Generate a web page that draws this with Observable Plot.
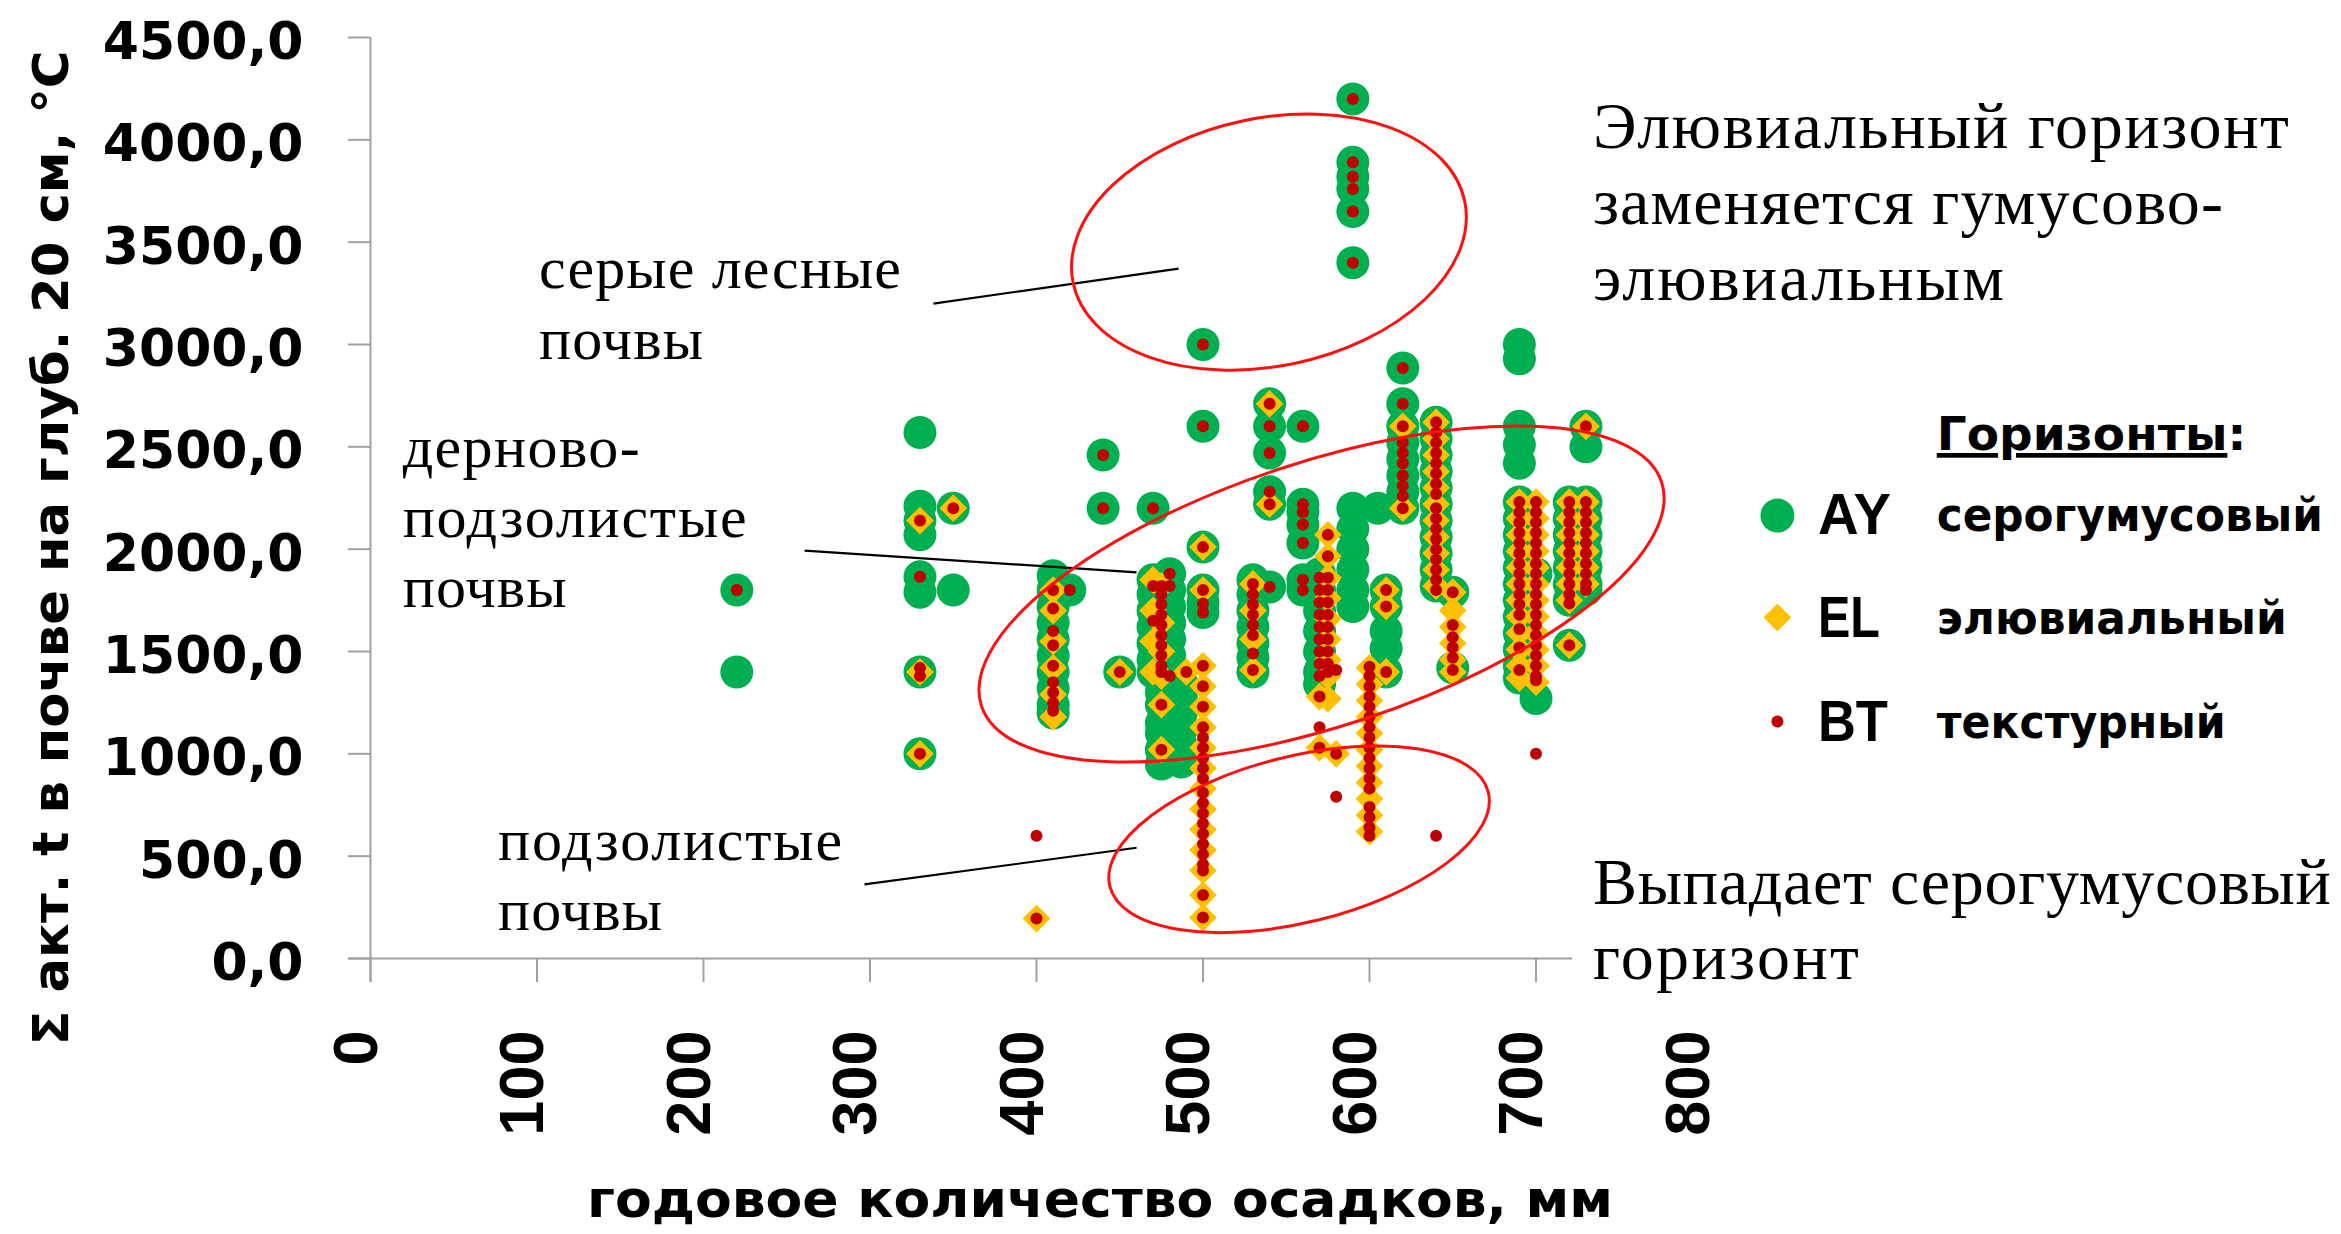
<!DOCTYPE html>
<html><head><meta charset="utf-8">
<script src="https://cdn.jsdelivr.net/npm/d3@7"></script>
<script src="https://cdn.jsdelivr.net/npm/@observablehq/plot@0.6"></script>
<style>
html,body{margin:0;padding:0;background:#fff;}
#chart{width:2341px;height:1234px;overflow:hidden;}
</style></head><body><div id="chart"></div>
<script>
// ---- data: [precipitation mm, [sum of active t values]] ----
const AY_columns = [
  [220, [1800, 1400]],
  [330, [2570, 2210, 2140, 2070, 1865, 1790, 1400, 1000]],
  [350, [2200, 1800]],
  [410, [1870, 1800, 1720, 1640, 1560, 1480, 1400, 1320, 1240, 1200]],
  [420, [1800]],
  [440, [2460, 2200]],
  [450, [1400]],
  [470, [2200, 1850, 1780, 1700, 1620, 1540, 1460, 1400]],
  [475, [1350, 1300, 1240, 1150, 1100, 1020, 950]],
  [480, [1880, 1800, 1720, 1640, 1560, 1480, 1400]],
  [487, [1350, 1280, 1200, 1120, 1040, 960]],
  [500, [3000, 2600, 2010, 1800, 1740, 1690]],
  [530, [1850, 1780, 1700, 1620, 1540, 1470, 1400]],
  [540, [2710, 2600, 2470, 2280, 2220, 1815]],
  [560, [2600, 2220, 2180, 2120, 2030, 1850, 1800]],
  [570, [1880, 1800, 1700, 1600, 1500, 1400, 1340]],
  [590, [4200, 3890, 3820, 3760, 3650, 3400, 2200, 2100, 2000, 1900, 1800, 1720]],
  [605, [2200]],
  [610, [1800, 1720, 1600, 1515, 1400]],
  [620, [2885, 2710, 2600, 2520, 2440, 2360, 2280, 2200]],
  [640, [2620, 2540, 2460, 2380, 2300, 2220, 2140, 2060, 1980, 1900, 1820]],
  [650, [1790, 1420]],
  [690, [3000, 2930, 2600, 2510, 2420, 2230, 2150, 2070, 1990, 1910, 1830, 1750, 1670, 1590, 1510, 1430, 1370]],
  [700, [1880, 1270]],
  [720, [2230, 2150, 2070, 1990, 1910, 1830, 1750, 1530]],
  [730, [2600, 2500, 2230, 2150, 2070, 1990, 1910, 1830, 1800]]
];
const EL_columns = [
  [330, [2140, 1400, 1000]],
  [350, [2200]],
  [400, [195]],
  [410, [1800, 1700, 1550, 1420, 1290, 1180]],
  [450, [1400]],
  [470, [1850, 1700, 1550, 1400]],
  [475, [1820, 1640, 1500, 1380, 1240, 1020]],
  [490, [1400]],
  [500, [2010, 1800, 1430, 1330, 1230, 1130, 1030, 930, 830, 730, 630, 530, 430, 310, 200]],
  [530, [1830, 1700, 1560, 1410]],
  [540, [2710, 2220]],
  [570, [1280, 1030]],
  [575, [2070, 1965, 1860, 1760, 1660, 1560, 1460, 1380, 1270]],
  [580, [1000]],
  [600, [1420, 1340, 1260, 1180, 1100, 1020, 940, 860, 780, 700, 620]],
  [610, [1800, 1720, 1400]],
  [620, [2600, 2200]],
  [640, [2620, 2540, 2460, 2380, 2300, 2220, 2140, 2060, 1980, 1900, 1820]],
  [650, [1790, 1700, 1620, 1540, 1460, 1400]],
  [690, [2230, 2150, 2070, 1990, 1910, 1830, 1750, 1670, 1590, 1510, 1430, 1370]],
  [700, [2230, 2150, 2070, 1990, 1910, 1830, 1750, 1670, 1590, 1510, 1430, 1350]],
  [720, [2230, 2150, 2070, 1990, 1910, 1830, 1750, 1530]],
  [730, [2600, 2230, 2150, 2070, 1990, 1910, 1830]]
];
const BT_columns = [
  [220, [1800]],
  [330, [2140, 1865, 1420, 1380, 1000]],
  [350, [2200]],
  [400, [600, 195]],
  [410, [1800, 1710, 1600, 1530, 1430, 1350, 1300, 1250, 1210]],
  [420, [1800]],
  [440, [2460, 2200]],
  [450, [1400]],
  [470, [2200, 1820, 1650]],
  [475, [1820, 1780, 1730, 1680, 1630, 1580, 1530, 1480, 1430, 1400, 1240, 1020]],
  [480, [1880, 1820, 1380]],
  [490, [1400]],
  [500, [3000, 2600, 2010, 1800, 1735, 1690, 1430, 1330, 1230, 1130, 1080, 1030, 980, 930, 880, 810, 760, 710, 660, 610, 560, 510, 460, 430, 310, 200]],
  [530, [1830, 1780, 1730, 1680, 1630, 1580, 1490, 1410]],
  [540, [2710, 2600, 2470, 2280, 2220, 1815]],
  [560, [2600, 2220, 2180, 2120, 2030, 1850, 1800]],
  [570, [1860, 1800, 1740, 1680, 1620, 1560, 1500, 1440, 1380, 1280, 1130, 1030]],
  [575, [2070, 1965, 1860, 1800, 1740, 1680, 1620, 1560, 1500, 1440, 1400]],
  [580, [1410, 1000, 790]],
  [590, [4200, 3890, 3820, 3760, 3650, 3400]],
  [600, [1425, 1380, 1330, 1280, 1230, 1180, 1130, 1080, 1030, 980, 930, 880, 830, 740, 690, 640, 600]],
  [610, [1800, 1720, 1400]],
  [620, [2885, 2710, 2600, 2520, 2470, 2420, 2360, 2310, 2260, 2200]],
  [640, [2620, 2570, 2520, 2470, 2420, 2370, 2320, 2270, 2200, 2150, 2100, 2050, 2000, 1950, 1900, 1850, 1800, 600]],
  [650, [1790, 1630, 1570, 1520, 1470, 1410]],
  [690, [2230, 2180, 2130, 2080, 2030, 1980, 1930, 1880, 1830, 1780, 1730, 1680, 1610, 1520, 1410]],
  [700, [2230, 2180, 2130, 2080, 2030, 1980, 1930, 1880, 1830, 1780, 1730, 1680, 1630, 1580, 1530, 1480, 1430, 1380, 1360, 1000]],
  [720, [2230, 2180, 2130, 2080, 2030, 1980, 1930, 1880, 1830, 1780, 1735, 1530]],
  [730, [2600, 2230, 2180, 2130, 2080, 2030, 1980, 1930, 1880, 1830, 1800]]
];

const xTickLabels = [0, 100, 200, 300, 400, 500, 600, 700, 800];
const xTickMarks = [0, 100, 200, 300, 400, 500, 600, 700];
const yTicks = [0, 500, 1000, 1500, 2000, 2500, 3000, 3500, 4000, 4500];
const xAxisEnd = 722; // visible end of the x axis line (mm)

const xTitle = "годовое количество осадков, мм";
const yTitle = "Σ акт. t в почве на глуб. 20 см, °C";

// legend entries (positions in data units)
const legendTitle = {text: "Горизонты", x: 941, y: 2482};
const legendItems = [
  {key: "AY", name: "серогумусовый", x: 845, y: 2164, ty: 2070},
  {key: "EL", name: "элювиальный", x: 845, y: 1666, ty: 1568},
  {key: "BT", name: "текстурный", x: 845, y: 1158, ty: 1060}
];

// annotations (data units)
const notes = [
  {text: "серые лесные", x: 101.5, y: 3274, size: 60, w: 362},
  {text: "почвы", x: 101.5, y: 2927, size: 60, w: 164},
  {text: "дерново-", x: 19.6, y: 2399, size: 60, w: 237},
  {text: "подзолистые", x: 19.6, y: 2057, size: 60, w: 344},
  {text: "почвы", x: 19.6, y: 1715, size: 60, w: 164},
  {text: "подзолистые", x: 76.9, y: 479, size: 60, w: 344},
  {text: "почвы", x: 76.9, y: 137, size: 60, w: 164},
  {text: "Элювиальный горизонт", x: 734.5, y: 3958, size: 66, w: 696},
  {text: "заменяется гумусово-", x: 734.5, y: 3586, size: 66, w: 630},
  {text: "элювиальным", x: 734.5, y: 3215, size: 66, w: 411},
  {text: "Выпадает серогумусовый", x: 734.5, y: 264, size: 66, w: 738},
  {text: "горизонт", x: 734.5, y: -103, size: 66, w: 266}
];
const leaders = [
  {x1: 338.1, y1: 3200, x2: 485.3, y2: 3371},
  {x1: 260.7, y1: 1993, x2: 460.1, y2: 1887},
  {x1: 296.7, y1: 362, x2: 460.1, y2: 541}
];
const ellipses = [
  {x: 539.9, y: 3498, rx: 200, ry: 124, angle: -11.8},
  {x: 571.5, y: 1778, rx: 358, ry: 132, angle: -18.2},
  {x: 558.0, y: 580, rx: 195, ry: 83, angle: -14}
];

const colors = {AY: "#00B050", EL: "#FFC000", BT: "#C00000"};
const flat = (cols, s) => cols.flatMap(([x, ys]) => ys.map(y => ({x, y, s})));
const ay = flat(AY_columns, "AY"), el = flat(EL_columns, "EL"), bt = flat(BT_columns, "BT");
const fmtY = d => d.toFixed(1).replace(".", ",");
const axisGray = "#a0a0a0";
const lgAY = legendItems.filter(d => d.key === "AY");
const lgEL = legendItems.filter(d => d.key === "EL");
const lgBT = legendItems.filter(d => d.key === "BT");

const plot = Plot.plot({
  width: 2341, height: 1234,
  marginLeft: 370, marginRight: 639, marginTop: 37, marginBottom: 276,
  x: {domain: [0, 800], axis: null},
  y: {domain: [0, 4500], axis: null},
  style: {background: "#fff", overflow: "visible"},
  marks: [
    Plot.ruleX([0], {y1: 4500, y2: 0, insetBottom: -24, stroke: axisGray, strokeWidth: 2}),
    Plot.ruleY([0], {x1: 0, x2: xAxisEnd, insetLeft: -22, stroke: axisGray, strokeWidth: 2}),
    Plot.ruleX(xTickMarks, {x: d => d, y1: 0, y2: 0, insetBottom: -24, stroke: axisGray, strokeWidth: 2}),
    Plot.ruleY(yTicks, {y: d => d, x1: 0, x2: 0, insetLeft: -22, stroke: axisGray, strokeWidth: 2}),
    Plot.text(yTicks, {y: d => d, frameAnchor: "left", text: fmtY, textAnchor: "end", dx: -67, dy: 5,
      fontSize: 52, fontWeight: "bold", fontFamily: "DejaVu Sans", fill: "#000"}),
    Plot.text(xTickLabels, {x: d => d, frameAnchor: "bottom", text: d => String(d), rotate: -90, textAnchor: "end",
      dy: 72, dx: 6, fontSize: 63, fontWeight: "bold", fontFamily: "Liberation Sans", fill: "#000"}),
    Plot.dot(ay, {x: "x", y: "y", r: 16.5, fill: colors.AY}),
    Plot.dot(el, {x: "x", y: "y", r: 12.5, symbol: "diamond2", fill: colors.EL}),
    Plot.dot(bt, {x: "x", y: "y", r: 6, fill: colors.BT}),
    Plot.link(leaders, {x1: "x1", y1: "y1", x2: "x2", y2: "y2", stroke: "#000", strokeWidth: 2.2}),
    Plot.dot(lgAY, {x: "x", y: "y", r: 17, fill: colors.AY}),
    Plot.dot(lgEL, {x: "x", y: "y", r: 12.5, symbol: "diamond2", fill: colors.EL}),
    Plot.dot(lgBT, {x: "x", y: "y", r: 6, fill: colors.BT})
  ]
});

const xs = plot.scale("x"), ys = plot.scale("y");
const svg = d3.select(plot);
const g = svg.append("g").attr("text-anchor", "start");

// ellipses
for (const e of ellipses) {
  const cx = xs.apply(e.x), cy = ys.apply(e.y);
  g.append("ellipse").attr("cx", cx).attr("cy", cy).attr("rx", e.rx).attr("ry", e.ry)
    .attr("transform", `rotate(${e.angle} ${cx} ${cy})`)
    .attr("fill", "none").attr("stroke", "#ff1010").attr("stroke-width", 3);
}

// annotation texts
for (const n of notes) {
  g.append("text").attr("x", xs.apply(n.x)).attr("y", ys.apply(n.y)).attr("text-anchor", "start")
    .attr("font-family", "Liberation Serif, serif").attr("font-size", n.size)
    .attr("textLength", n.w).attr("lengthAdjust", "spacing").attr("fill", "#000").text(n.text);
}

// legend texts
const lt = g.append("text").attr("x", xs.apply(legendTitle.x)).attr("y", ys.apply(legendTitle.y)).attr("text-anchor", "start")
  .attr("font-family", "DejaVu Sans").attr("font-weight", "bold").attr("font-size", 47).attr("fill", "#000");
lt.append("tspan").attr("text-decoration", "underline").text(legendTitle.text);
lt.append("tspan").text(":");
const keyW = {AY: 73, EL: 62, BT: 70};
const nameW = {AY: 386, EL: 350, BT: 289};
for (const it of legendItems) {
  g.append("text").attr("x", xs.apply(it.x) + 41).attr("y", ys.apply(it.ty)).attr("text-anchor", "start")
    .attr("font-family", "Liberation Sans").attr("font-weight", "bold").attr("font-size", 58)
    .attr("textLength", keyW[it.key]).attr("lengthAdjust", "spacingAndGlyphs").attr("fill", "#000").text(it.key);
  g.append("text").attr("x", xs.apply(legendTitle.x)).attr("y", ys.apply(it.ty) - 3).attr("text-anchor", "start")
    .attr("font-family", "DejaVu Sans Condensed, DejaVu Sans").attr("font-weight", "bold").attr("font-size", 47)
    .attr("textLength", nameW[it.key]).attr("lengthAdjust", "spacingAndGlyphs").attr("fill", "#000").text(it.name);
}

// axis titles
const frameCx = (370 + 2341 - 639) / 2;
g.append("text").attr("x", frameCx + 64).attr("y", 1217).attr("text-anchor", "middle")
  .attr("font-family", "DejaVu Sans").attr("font-weight", "bold").attr("font-size", 52)
  .attr("textLength", 1026).attr("lengthAdjust", "spacingAndGlyphs").attr("fill", "#000").text(xTitle);
g.append("text").attr("transform", "translate(68,548) rotate(-90)").attr("text-anchor", "middle")
  .attr("font-family", "DejaVu Sans").attr("font-weight", "bold").attr("font-size", 49)
  .attr("textLength", 995).attr("lengthAdjust", "spacingAndGlyphs").attr("fill", "#000").text(yTitle);

document.getElementById("chart").appendChild(plot);
</script>
</body></html>
